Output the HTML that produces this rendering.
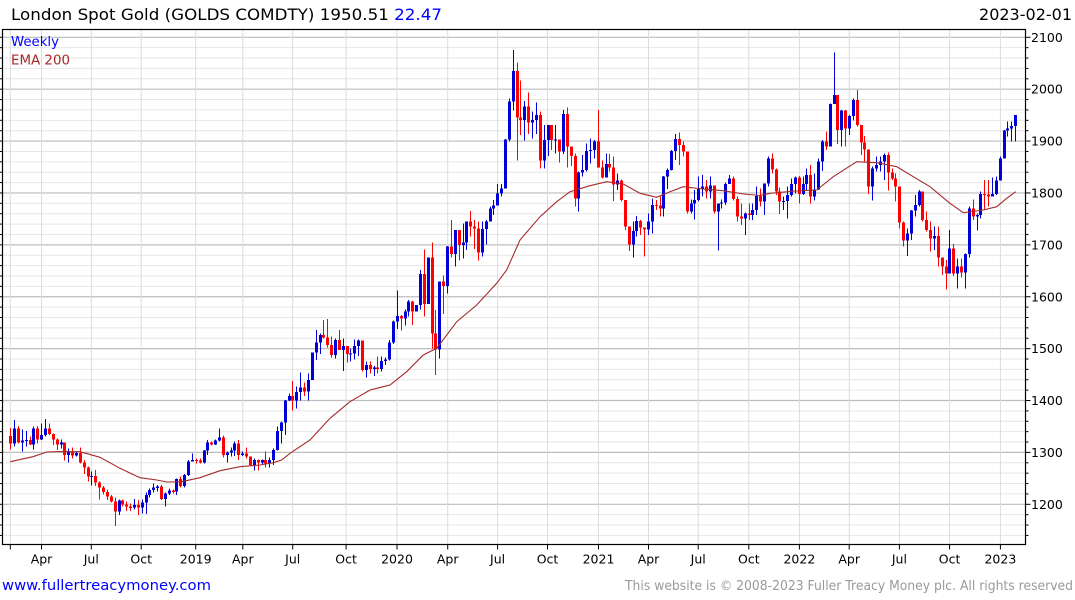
<!DOCTYPE html>
<html>
<head>
<meta charset="utf-8">
<style>
html,body{margin:0;padding:0;background:#fff;}
body{width:1075px;height:600px;overflow:hidden;}
svg{display:block;}
text{font-family:"DejaVu Sans","Liberation Sans",sans-serif;}
</style>
</head>
<body>
<svg id="chart" width="1075" height="600" viewBox="0 0 1075 600" xmlns="http://www.w3.org/2000/svg">
<rect x="0" y="0" width="1075" height="600" fill="#fff"/>
<g id="grid"></g>
<g id="candles"></g>
<g id="ema"></g>
<g id="axes"></g>
<text x="11" y="20" font-size="16" fill="#000" textLength="431" lengthAdjust="spacingAndGlyphs">London Spot Gold (GOLDS COMDTY) 1950.51 <tspan fill="#0000ff">22.47</tspan></text>
<text x="1072" y="20" font-size="16" fill="#000" text-anchor="end">2023-02-01</text>
<text x="11" y="46" font-size="13.5" fill="#0000ff" textLength="48" lengthAdjust="spacingAndGlyphs">Weekly</text>
<text x="11" y="64.5" font-size="13.5" fill="#a52a2a" textLength="59" lengthAdjust="spacingAndGlyphs">EMA 200</text>
<g id="xlabels" font-size="12.5" fill="#000" text-anchor="middle">
<text x="41.5" y="563.5">Apr</text>
<text x="91.3" y="563.5">Jul</text>
<text x="141.2" y="563.5">Oct</text>
<text x="195.7" y="563.5">2019</text>
<text x="242.8" y="563.5">Apr</text>
<text x="292.7" y="563.5">Jul</text>
<text x="346.1" y="563.5">Oct</text>
<text x="397" y="563.5">2020</text>
<text x="447.7" y="563.5">Apr</text>
<text x="497.6" y="563.5">Jul</text>
<text x="547.5" y="563.5">Oct</text>
<text x="598.5" y="563.5">2021</text>
<text x="648.5" y="563.5">Apr</text>
<text x="698.2" y="563.5">Jul</text>
<text x="748.8" y="563.5">Oct</text>
<text x="799.4" y="563.5">2022</text>
<text x="849.2" y="563.5">Apr</text>
<text x="899.4" y="563.5">Jul</text>
<text x="949.6" y="563.5">Oct</text>
<text x="1000.4" y="563.5">2023</text>
</g>
<g id="ylabels" font-size="12.5" fill="#000">
<text x="1031" y="41.8">2100</text>
<text x="1031" y="93.7">2000</text>
<text x="1031" y="145.6">1900</text>
<text x="1031" y="197.5">1800</text>
<text x="1031" y="249.4">1700</text>
<text x="1031" y="301.3">1600</text>
<text x="1031" y="353.2">1500</text>
<text x="1031" y="405.1">1400</text>
<text x="1031" y="457">1300</text>
<text x="1031" y="508.8">1200</text>
</g>
<text x="2" y="590" font-size="14" fill="#0000ff" textLength="209" lengthAdjust="spacingAndGlyphs">www.fullertreacymoney.com</text>
<text x="1073" y="590" font-size="13" fill="#9a9a9a" text-anchor="end" textLength="448" lengthAdjust="spacingAndGlyphs">This website is © 2008-2023 Fuller Treacy Money plc. All rights reserved</text>
</svg>
<script>
(function(){
var NS="http://www.w3.org/2000/svg";
function el(parent,tag,attrs){var e=document.createElementNS(NS,tag);for(var k in attrs)e.setAttribute(k,attrs[k]);parent.appendChild(e);return e;}
var grid=document.getElementById('grid'),axes=document.getElementById('axes'),cg=document.getElementById('candles'),eg=document.getElementById('ema');
var L0=2.5,R0=1025.5,T0=29.5,B0=544.5;
function py(p){return 504.3-(p-1200)*0.5189;}
// horizontal grid
for(var p=1140;p<=2120;p+=20){var y=py(p);if(y<=T0||y>=B0)continue;var maj=(p%100===0);
 el(grid,'line',{x1:L0,x2:R0,y1:y,y2:y,stroke:maj?'#bdbdbd':'#e6e6e6','stroke-width':maj?1.2:1});
 el(axes,'line',{x1:R0,x2:R0+(maj?5:3),y1:y,y2:y,stroke:'#000','stroke-width':1});
 el(axes,'line',{x1:0,x2:L0,y1:y,y2:y,stroke:'#000','stroke-width':1});
}
var xs=[10.3,41.5,91.3,141.2,195.7,242.8,292.7,346.1,397,447.7,497.6,547.5,598.5,648.5,698.2,748.8,799.4,849.2,899.4,949.6,1000.4];
xs.forEach(function(x){el(grid,'line',{x1:x,x2:x,y1:T0,y2:B0,stroke:'#dcdcdc','stroke-width':1});
 el(axes,'line',{x1:x,x2:x,y1:B0,y2:B0+5,stroke:'#000','stroke-width':1});});
el(axes,'rect',{x:L0,y:T0,width:R0-L0,height:B0-T0,fill:'none',stroke:'#000','stroke-width':1.2});

var C=[443.7,428.3,442.7,440.7,440,444.3,428.3,439.3,435,428.3,
434,439.3,444.3,442.7,455,451.7,455.7,453,462.7,467.7,
476.7,476,482.7,487.7,492,496.7,501.7,511.7,500.7,504.3,
506.7,507.3,505,507.7,502.7,495,490,487.3,486.7,499,
493.3,490.7,491.3,479,486,475,461.7,460,460.7,462.3,
450.7,442.7,444.3,440.7,437.7,455,452.7,450.7,443.3,455,
453.3,456.7,465,460,462.7,460,463.3,460,450,431,
422.7,400.7,396,400.7,392,387.3,391.3,380,352.7,342.3,
335,337.7,345,355,340,350,346,354,353.3,346,
340.7,370,365,369,367.3,369,361,359.3,342.7,321.7,
316,318.3,311.7,301.7,311.7,305,274,304,257.7,333.3,
349.3,281.7,286,246.7,254,230,245,242.7,221.7,226.7,
228.7,252.7,229,221.7,208.3,205.7,193.3,188.3,139.3,101.7,
71,117.3,120,106.7,122.7,120,115,160.7,140,125,
140,139.3,151.7,114,146.7,156,198.3,172.7,170,151,
150,141.7,167.3,177.7,164,167.7,184.3,180.7,200,226.7,
244.3,231,221,227.3,229.3,221.7,205,205.7,208.3,176.7,
170,151,139,145,151.7,211.7,203.3,200,189,186.7,
191.7,185.7,211.7,203.3,202.3,184,178.3,199,216.7,218.3,
213.3,215,210,196,201.7,183.3,158.3,169.3,191.7,201.7,
201,195,184,177.3,194,184,175,196.7,189.3,161.7,
141.7,146.7,104,95,130,110.7,128.3,116,100,125,
142.7,149.3,186.7,168.3,165,161.7,155,172.7,178.3,186.7,
222.7,240.7,233.3,210.7,205,191.7,220,230,238.3,236,
257.7,266.7,273.3,248.3,273.3,266.7,272.7,254,208.3,216.7,
215,194,194.3,196.7,194,180.7,158.3,130.7,128.3,126,
115];
var H=[428,420,426,429.3,431,436.7,426.7,426,423.3,419,
423.3,433.3,438.3,439.3,442.7,448.3,447.3,451.7,447.3,460,
466.7,471.7,470,481.7,486,489.3,495,497.3,499.3,499.3,
501.7,503.3,499,500,499.3,492.7,488.3,483.3,485,485,
492.7,488.3,489.3,478.3,476.7,474,460,453.3,458.3,458.3,
450,440,441.7,439.3,428.3,435.7,451.7,447.3,441.7,440,
451.7,447.3,456.7,458.3,459.3,459.3,451.7,457.3,448.3,426.7,
421.7,400,393.3,381,386.7,372.7,382.7,373.3,352.7,330,
333.3,320,319,336.7,338.3,330,338.3,346.7,348.3,339.3,
339.3,341,361.7,361.7,366,356.7,356.7,357.3,340,320.7,
290.7,315,309.3,300,301,305,270,249.3,257.7,242.7,
310,281.7,275.7,246,220,230,230,223.3,221.7,211,
220,221.7,221.7,220,206.7,200,184,184,139,98.3,
50,62.7,80.7,101,92.7,111.7,102.3,111.7,125,125,
125,125,140,110,107.3,146.7,153.3,171.7,155,143.3,
138.3,140,110,160.7,153.3,154,156.7,173.3,179.3,201.7,
226.7,221.7,216,220,227.3,213.3,198.3,200,196.7,176,
168.3,150,134,132.3,141.7,153.3,199.3,190,176.7,175,
180,176.7,185.7,203.3,199.3,182.7,175,176.7,196.7,203.3,
212.7,203.3,203.3,186.7,188.3,183.3,156.7,153.3,168.3,187.3,
196.7,186.7,178.3,176.7,176,176.7,168.3,165,173.3,158.3,
140,131.7,103.3,52.7,95,110,110,115,98.7,90,
125,136,149.3,166.7,156.7,156.7,153.3,152.7,168.3,173.3,
188.3,221.7,228.3,210,195,190,191.7,211.7,221.7,226.7,
226.7,257.7,260,230,244,258.3,258.3,253.3,206.7,199.3,
213.3,191.7,180,180,177.3,176.7,156.7,130,121.7,121.7,
115];
var Lw=[449.3,446.7,443.3,451.7,446.7,445,449.3,443.3,440,436.7,
435,445,450,448.3,460.7,462.7,458.3,456.7,463.3,474,
481.7,485.7,486,499.7,494.3,500,502.7,526,515,506.7,
511,511,509.3,515,513.3,514,497.3,492.7,491.7,500,
506.7,495,493.3,495,487.3,487.3,476,461.7,463.3,463.3,
463.3,455,445.3,445,441.7,457.3,462.7,456.7,456,460,
456,458.3,466,470.7,470.7,464,467.7,467.7,465,450.7,
443.3,435,401,410.7,408.7,400.7,396,400.7,380,360,
354,338.3,347.7,357.7,358.3,350,371,362.7,361.7,359.3,
356,371.7,377.7,373.3,376,373.3,371.7,365,360.7,344,
329,330.7,325.7,316.7,325,311.7,309.3,316.7,304,348.3,
375,358.3,314,293.3,257.3,266.7,260.7,258.3,250,236.7,
249,260.7,256.7,244.3,221.7,215,205.7,196.7,188,141.7,
110.7,160.7,135,140.7,134,138.3,134,168.3,168.3,156,
150,153.3,162.7,154,167.3,166,206.7,211.7,176.7,171.7,
163.3,158.3,167.3,178.3,177.7,171.7,201,190,201.7,230,
251,257.3,236.7,235,256.7,235,233.3,210,216.7,216.7,
189,170.7,160,165,156.7,213.3,213.3,219.3,201.7,196.7,
198.3,198.3,213.3,250.7,208.3,205,183.3,200.7,221.7,225,
235,220,220,215,206.7,215,186.7,173.3,195,214,
210,218.3,196.7,193.3,203.3,195,190.7,203.3,200.7,190,
171,150,146.7,101.7,144,146.7,146.7,135,120.7,126.7,
155,161.7,194,200.7,171.7,171.7,180,190.7,180,201.7,
228.3,246.7,256,240,216.7,206.7,221.7,231.7,251.7,250,
266.7,275,289.3,273.3,276,288.3,277.3,288.3,257.7,220,
230.7,218.3,210,206.7,196.7,195,178.3,158.3,136.7,141.7,
141.7];
var prev=436;
for(var k=0;k<C.length;k++){
 var cx=10.3+3.865*k, o=prev, c=C[k];
 var up=c<o;
 var col=up?'#0000d8':'#ff0000';
 var hi=Math.min(H[k],o,c), lo=Math.max(Lw[k],o,c);
 var rx=Math.round(cx);
 el(cg,'rect',{x:rx,y:hi,width:1,height:Math.max(1,lo-hi),fill:col,'shape-rendering':'crispEdges'});
 var top=Math.min(o,c),h=Math.max(1.2,Math.abs(o-c));
 el(cg,'rect',{x:rx-1,y:top,width:3,height:h,fill:col,'shape-rendering':'crispEdges'});
 prev=c;
}
var E=[[10.3,461.7],[33,456.7],[46.7,452],[60,451.5],[80,451.7],[100,457.3],[120,468.3],[140,477.7],[156.7,480],[166.7,482],[181.7,481.7],[200,477.7],[220,470.7],[240,466.7],[260,465],[273.3,462.7],[281.7,460],[290,453.3],[310,440],[330,418.3],[350,401.7],[370,390],[390,385],[406.7,371.7],[423.3,355],[436.7,348.3],[456.7,321.7],[476.7,305],[496.7,283.3],[506.7,270],[520,240],[540,216.7],[556.7,201.7],[570,191.7],[590,185.7],[606.7,181.7],[623.3,184],[640,193.3],[656.7,197.3],[670,191.7],[683.3,186.7],[703.3,189],[723.3,190.7],[743.3,194],[760,195.5],[770,193.3],[795,191],[816.7,190],[833.3,176.7],[856.7,161.7],[876.7,162.7],[896.7,166.7],[913.3,176.7],[930,186.7],[950,203.3],[963.3,212.7],[983.3,210],[996.7,206.7],[1006.7,198.3],[1015.7,191.7]];
el(eg,'polyline',{points:E.map(function(p){return p[0]+','+p[1];}).join(' '),fill:'none',stroke:'#a52a2a','stroke-width':1.1});
})();
</script>
</body>
</html>
